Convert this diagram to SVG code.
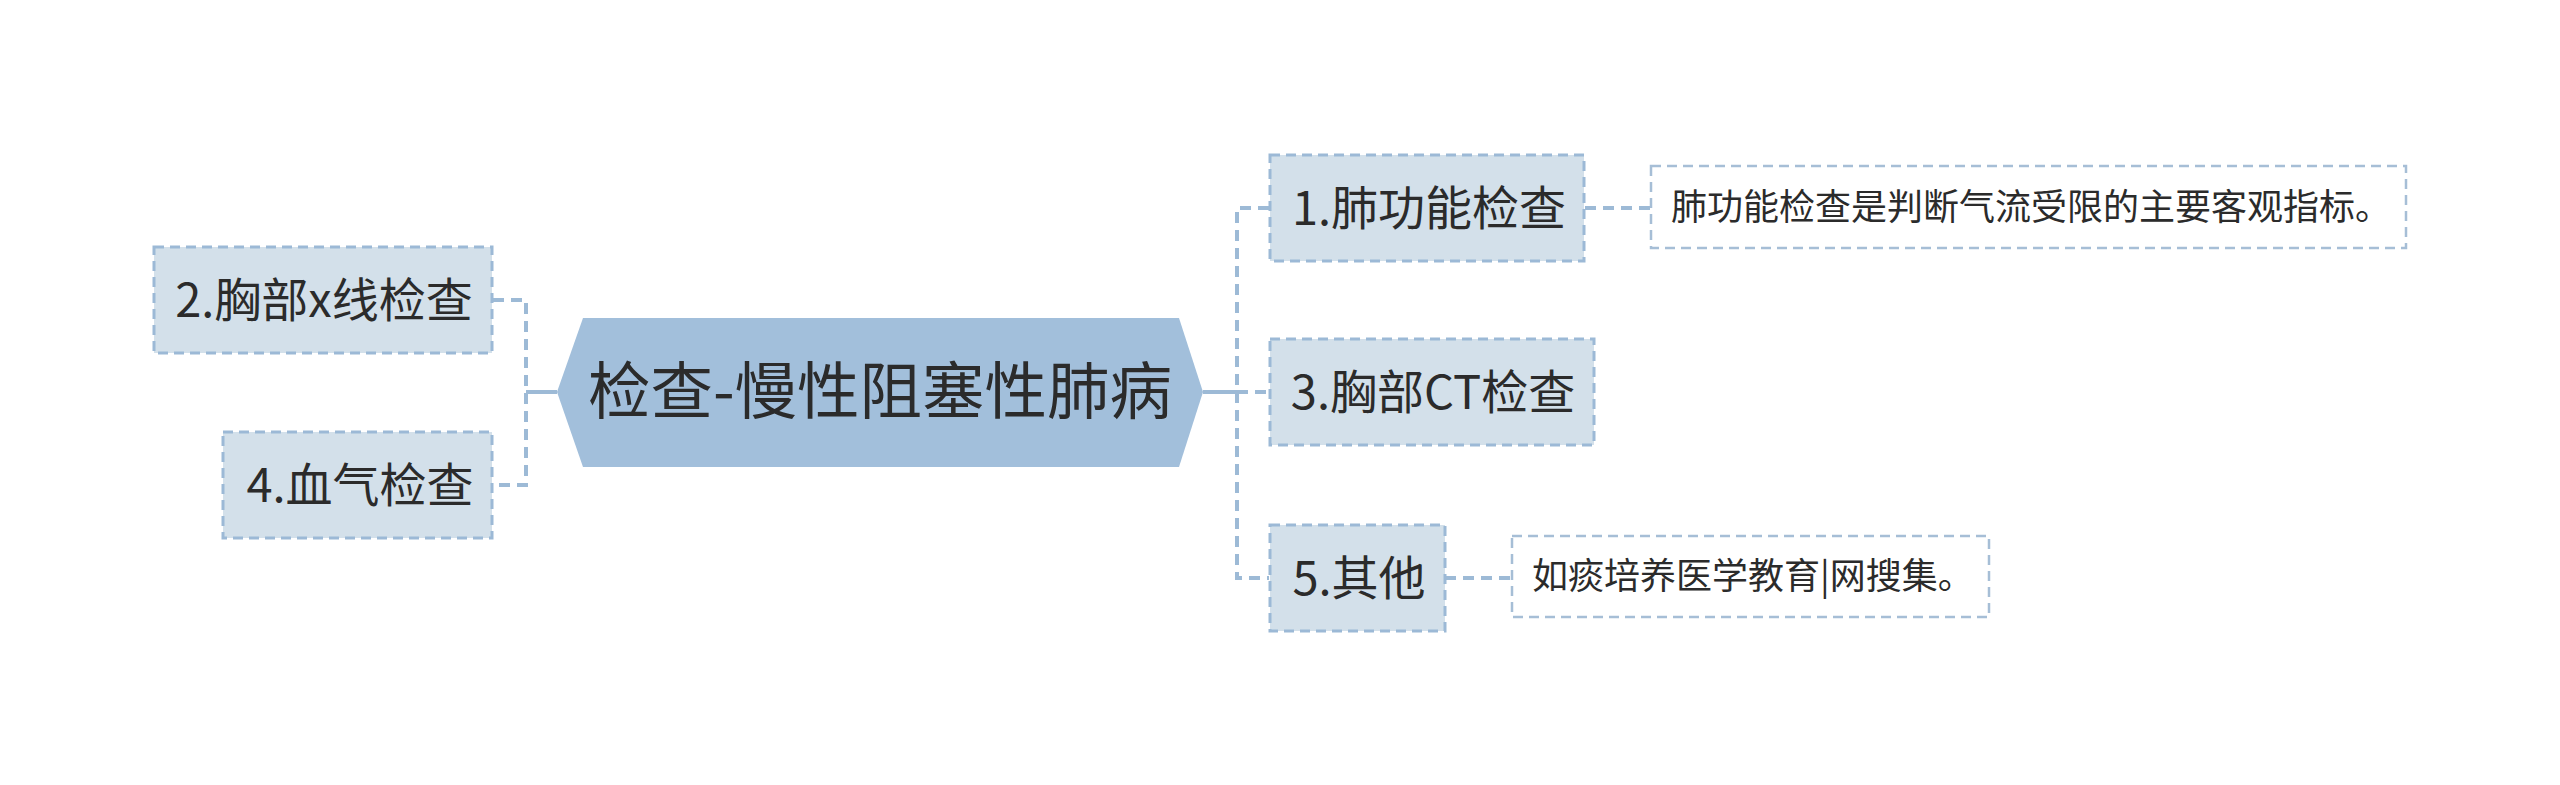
<svg xmlns="http://www.w3.org/2000/svg" width="2560" height="785" viewBox="0 0 2560 785">
<style>
text{font-family:"Noto Sans CJK SC","Liberation Sans",sans-serif;fill:#2b2b2b}
.sub rect{fill:#D3E0EA;stroke:#9CB9D6;stroke-width:3;stroke-dasharray:10 6}
.sub text{font-size:47px;text-anchor:middle}
.desc rect{fill:#FFFFFF;stroke:#A6BED6;stroke-width:2.5;stroke-dasharray:10 6}
.desc text{font-size:36px}
.dash{fill:none;stroke:#9DBAD6;stroke-width:4;stroke-dasharray:11 7}
.solid{fill:none;stroke:#9DBAD6;stroke-width:4}
</style>
<rect width="2560" height="785" fill="#FFFFFF"/>
<g id="connectors">
<path class="solid" d="M557 392 H526"/>
<path class="dash" d="M493 300 H526 V485 H493"/>
<path class="solid" d="M1203 392 H1237"/>
<path class="dash" d="M1269 208 H1237 V578 H1269"/>
<path class="dash" d="M1237 392 H1269"/>
<path class="dash" d="M1585 208 H1650"/>
<path class="dash" d="M1445 578 H1512"/>
</g>
<g id="center">
<polygon points="557,392 583,318 1179,318 1203,392 1179,467 583,467" fill="#A2BFDB"/>
<text x="880" y="414" style="font-size:62.5px;text-anchor:middle">检查-慢性阻塞性肺病</text>
</g>
<g id="n2" class="sub">
<rect x="154" y="247" width="338" height="106"/>
<text x="324" y="317">2.胸部x线检查</text>
</g>
<g id="n4" class="sub">
<rect x="223" y="432" width="269" height="106"/>
<text x="360" y="502">4.血气检查</text>
</g>
<g id="n1" class="sub">
<rect x="1270" y="155" width="314" height="106"/>
<text x="1429" y="225">1.肺功能检查</text>
</g>
<g id="n3" class="sub">
<rect x="1270" y="339" width="324" height="106"/>
<text x="1433" y="409">3.胸部CT检查</text>
</g>
<g id="n5" class="sub">
<rect x="1270" y="525" width="175" height="106"/>
<text x="1359" y="595">5.其他</text>
</g>
<g id="d1" class="desc">
<rect x="1651" y="166" width="755" height="82"/>
<text x="1671" y="220">肺功能检查是判断气流受限的主要客观指标。</text>
</g>
<g id="d5" class="desc">
<rect x="1512" y="536" width="477" height="81"/>
<text x="1532" y="589">如痰培养医学教育|网搜集。</text>
</g>
</svg>
